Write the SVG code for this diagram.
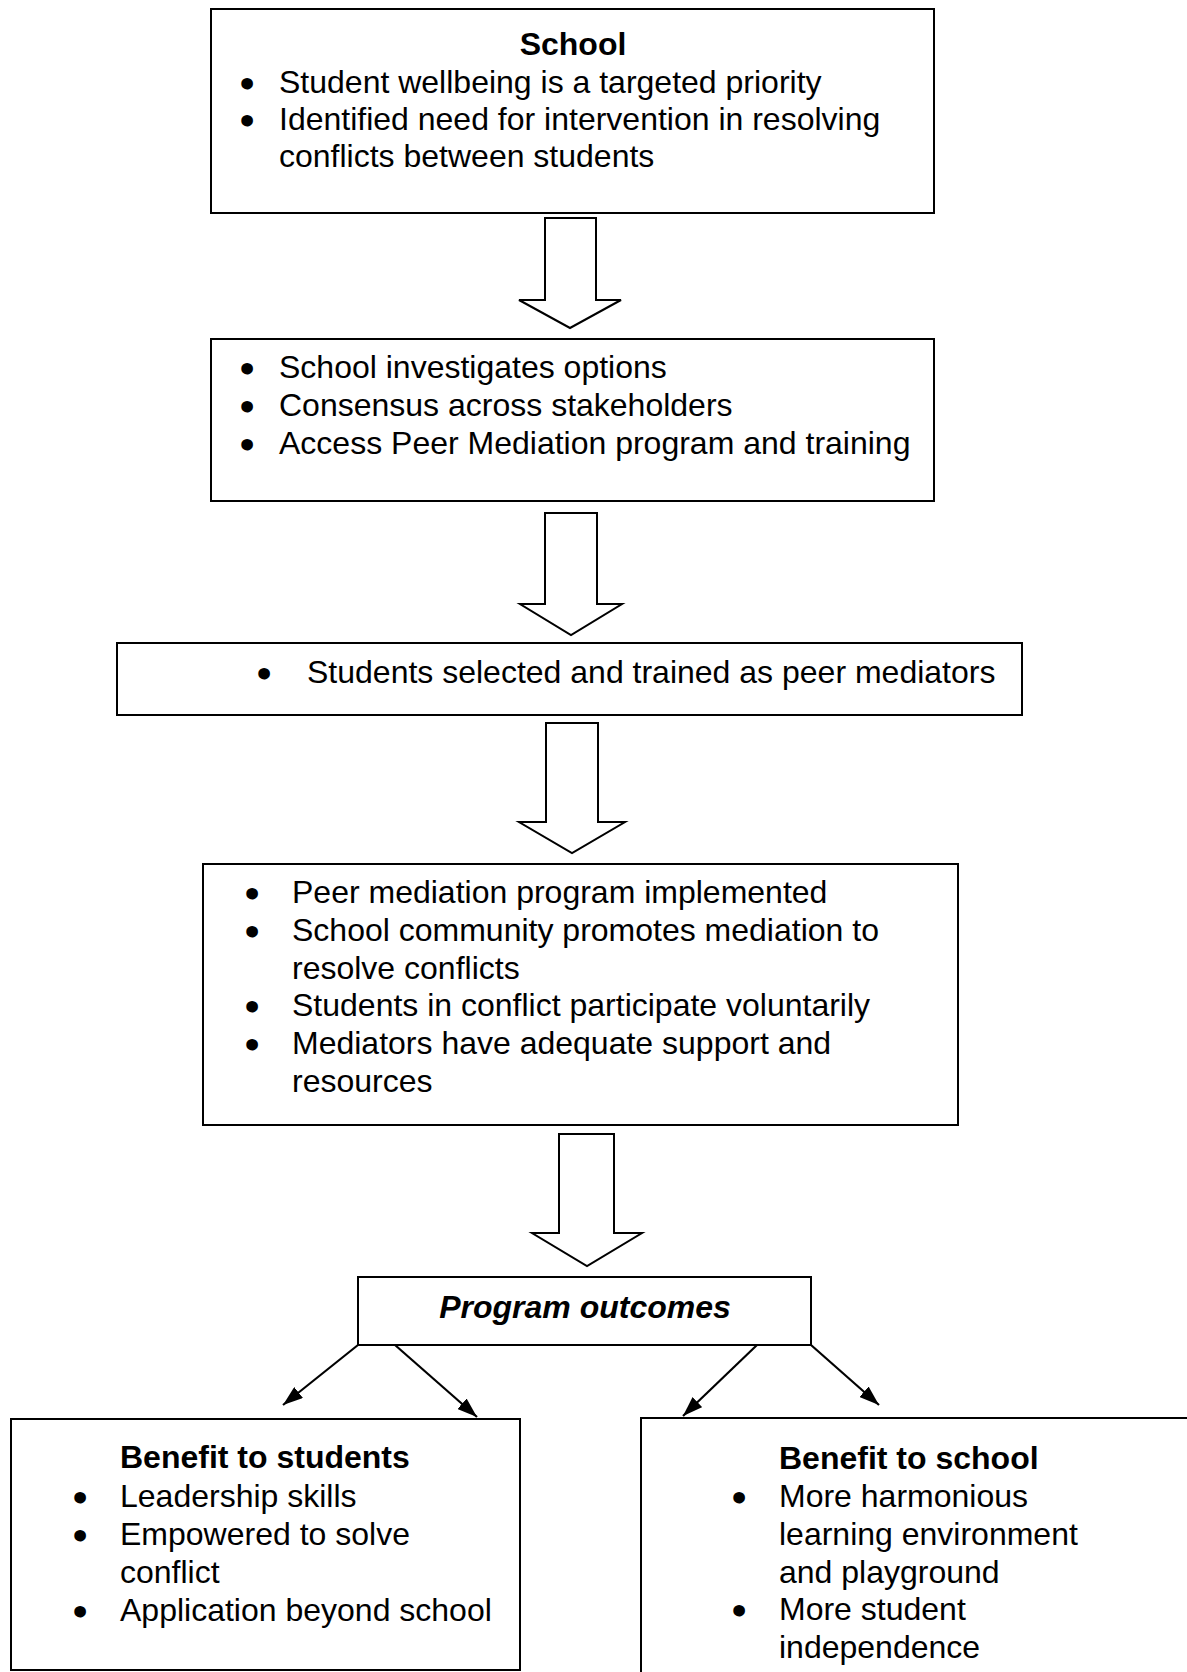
<svg xmlns="http://www.w3.org/2000/svg" width="1187" height="1672" viewBox="0 0 1187 1672">
  <style>
    .box { fill: #ffffff; stroke: #000000; stroke-width: 2; }
    .block { fill: #ffffff; stroke: #000000; stroke-width: 2; stroke-linejoin: miter; }
    .link { fill: none; stroke: #000000; stroke-width: 2.2; }
    text { font-family: "Liberation Sans", Arial, sans-serif; font-size: 32px; fill: #000000; }
    .title { font-weight: bold; }
    .italic-title { font-weight: bold; font-style: italic; }
    .bullet { text-anchor: middle; stroke: #000000; stroke-width: 3; }
  </style>
  <defs>
    <marker id="head" markerUnits="userSpaceOnUse" markerWidth="21" markerHeight="14" refX="20" refY="7" orient="auto">
      <path d="M0,0 L20,7 L0,14 Z" fill="#000000"/>
    </marker>
  </defs>

  <rect width="1187" height="1672" fill="#ffffff"/>

  <!-- Block arrows and outcome links -->
  <g id="connectors">
    <path class="block" d="M545,218 H596 V300 H621 L570,328 L519,300 H545 Z"/>
    <path class="block" d="M545,513 H597 V604 H622 L571,635 L520,604 H545 Z"/>
    <path class="block" d="M546,723 H598 V822 H625 L572,853 L519,822 H546 Z"/>
    <path class="block" d="M559,1134 H614 V1233 H642 L587,1266 L532,1233 H559 Z"/>

    <line class="link" x1="358" y1="1345" x2="283" y2="1405" marker-end="url(#head)"/>
    <line class="link" x1="395" y1="1345" x2="477" y2="1417" marker-end="url(#head)"/>
    <line class="link" x1="757" y1="1345" x2="683" y2="1416" marker-end="url(#head)"/>
    <line class="link" x1="811" y1="1345" x2="879" y2="1405" marker-end="url(#head)"/>
  </g>

  <g id="school">
    <rect class="box" x="211" y="9" width="723" height="204"/>
    <text class="title" x="573" y="55" text-anchor="middle">School</text>
    <text class="bullet" x="247" y="94">•</text>
    <text x="279" y="93">Student wellbeing is a targeted priority</text>
    <text class="bullet" x="247" y="131">•</text>
    <text x="279" y="130">Identified need for intervention in resolving</text>
    <text x="279" y="167">conflicts between students</text>
  </g>

  <g id="options">
    <rect class="box" x="211" y="339" width="723" height="162"/>
    <text class="bullet" x="247" y="379">•</text>
    <text x="279" y="378">School investigates options</text>
    <text class="bullet" x="247" y="417">•</text>
    <text x="279" y="416">Consensus across stakeholders</text>
    <text class="bullet" x="247" y="455">•</text>
    <text x="279" y="454">Access Peer Mediation program and training</text>
  </g>

  <g id="training">
    <rect class="box" x="117" y="643" width="905" height="72"/>
    <text class="bullet" x="264" y="684">•</text>
    <text x="307" y="683">Students selected and trained as peer mediators</text>
  </g>

  <g id="implementation">
    <rect class="box" x="203" y="864" width="755" height="261"/>
    <text class="bullet" x="252" y="904">•</text>
    <text x="292" y="903">Peer mediation program implemented</text>
    <text class="bullet" x="252" y="942">•</text>
    <text x="292" y="941">School community promotes mediation to</text>
    <text x="292" y="979">resolve conflicts</text>
    <text class="bullet" x="252" y="1017">•</text>
    <text x="292" y="1016">Students in conflict participate voluntarily</text>
    <text class="bullet" x="252" y="1055">•</text>
    <text x="292" y="1054">Mediators have adequate support and</text>
    <text x="292" y="1092">resources</text>
  </g>

  <g id="outcomes">
    <rect class="box" x="358" y="1277" width="453" height="68"/>
    <text class="italic-title" x="585" y="1318" text-anchor="middle">Program outcomes</text>
  </g>

  <g id="benefit-students">
    <rect class="box" x="11" y="1419" width="509" height="251"/>
    <text class="title" x="120" y="1468">Benefit to students</text>
    <text class="bullet" x="80" y="1508">•</text>
    <text x="120" y="1507">Leadership skills</text>
    <text class="bullet" x="80" y="1546">•</text>
    <text x="120" y="1545">Empowered to solve</text>
    <text x="120" y="1583">conflict</text>
    <text class="bullet" x="80" y="1622">•</text>
    <text x="120" y="1621">Application beyond school</text>
  </g>

  <g id="benefit-school">
    <rect class="box" x="641" y="1418" width="560" height="270"/>
    <text class="title" x="779" y="1469">Benefit to school</text>
    <text class="bullet" x="739" y="1508">•</text>
    <text x="779" y="1507">More harmonious</text>
    <text x="779" y="1545">learning environment</text>
    <text x="779" y="1583">and playground</text>
    <text class="bullet" x="739" y="1621">•</text>
    <text x="779" y="1620">More student</text>
    <text x="779" y="1658">independence</text>
  </g>
</svg>
